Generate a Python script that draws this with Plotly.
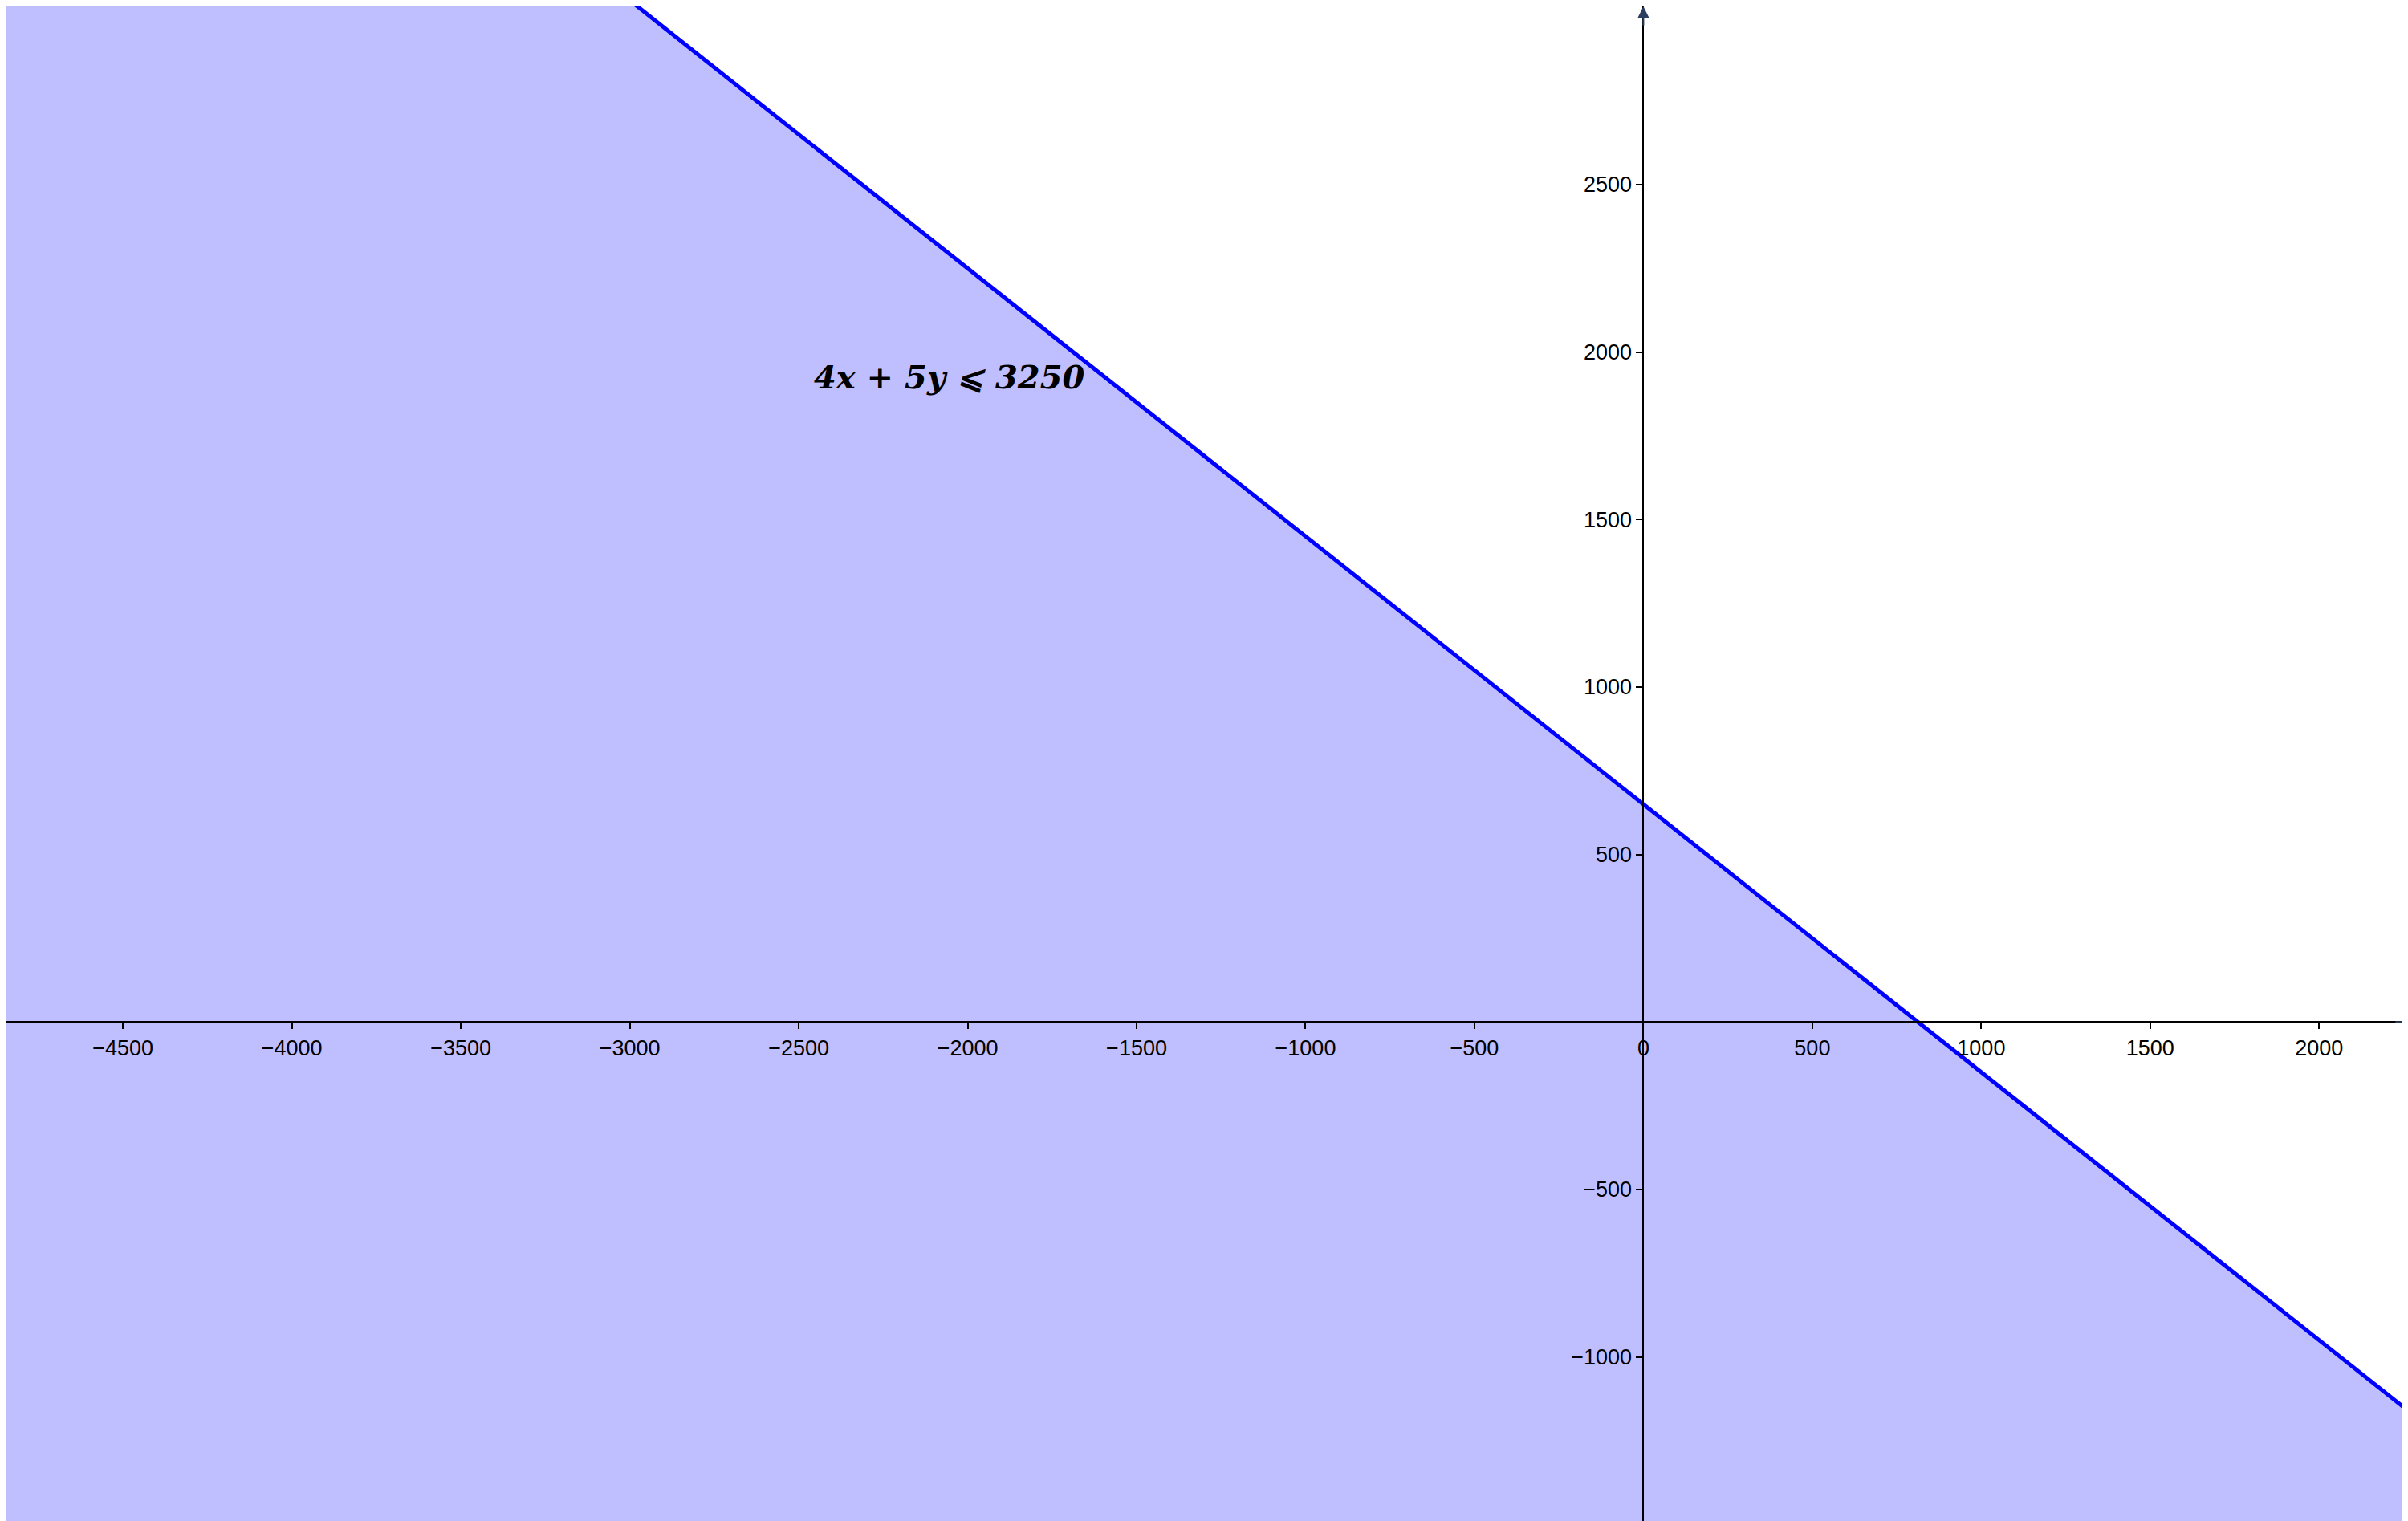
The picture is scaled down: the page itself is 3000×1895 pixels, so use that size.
import numpy as np
import plotly.graph_objects as go

# Inequality a*x + b*y <= c
a, b, c = 4, 5, 3250
x_range = [-4845, 2282]
y_range = [-1509, 3032]
x_ticks = [-4500, -4000, -3500, -3000, -2500, -2000, -1500, -1000, -500, 0, 500, 1000, 1500, 2000]
y_ticks = [-1000, -500, 500, 1000, 1500, 2000, 2500]

xs = np.array(x_range, dtype=float)
ys = (c - a * xs) / b

fig = go.Figure()

# shaded half-plane
fig.add_trace(go.Scatter(
    x=[xs[0], xs[1], xs[1], xs[0]],
    y=[ys[0], ys[1], y_range[0], y_range[0]],
    fill="toself", fillcolor="rgb(191,191,255)",
    mode="none", hoverinfo="skip", showlegend=False,
))

# boundary line
fig.add_trace(go.Scatter(
    x=xs, y=ys, mode="lines",
    line=dict(color="rgb(0,0,255)", width=5),
    showlegend=False,
))

fig.add_annotation(
    x=-2055, y=1927, text="<b><i>4x + 5y ⩽ 3250</i></b>",
    showarrow=False, font=dict(family="DejaVu Serif", size=40, color="black"),
)

# axis arrows
fig.add_annotation(x=x_range[1], y=0, ax=x_range[1] - 60, ay=0, axref="x", ayref="y",
                   showarrow=True, arrowhead=2, arrowsize=1.5, arrowwidth=2, text="")
fig.add_annotation(x=0, y=y_range[1], ax=0, ay=y_range[1] - 60, axref="x", ayref="y",
                   showarrow=True, arrowhead=2, arrowsize=1.5, arrowwidth=2, text="")

x0_pos = (0 - y_range[0]) / (y_range[1] - y_range[0])
y0_pos = (0 - x_range[0]) / (x_range[1] - x_range[0])

axis_font = dict(family="Liberation Sans", size=27, color="black")
fig.update_layout(
    width=3000, height=1895,
    margin=dict(l=0, r=0, t=0, b=0),
    plot_bgcolor="white", paper_bgcolor="white",
    xaxis=dict(range=x_range, tickvals=x_ticks, showgrid=False, zeroline=False,
               showline=True, linecolor="black", linewidth=2,
               ticks="outside", ticklen=8, tickcolor="black", tickwidth=2,
               anchor="free", position=x0_pos, tickfont=axis_font),
    yaxis=dict(range=y_range, tickvals=y_ticks, showgrid=False, zeroline=False,
               showline=True, linecolor="black", linewidth=2,
               ticks="outside", ticklen=8, tickcolor="black", tickwidth=2,
               anchor="free", position=y0_pos, tickfont=axis_font),
)

fig.write_html("out.html")
